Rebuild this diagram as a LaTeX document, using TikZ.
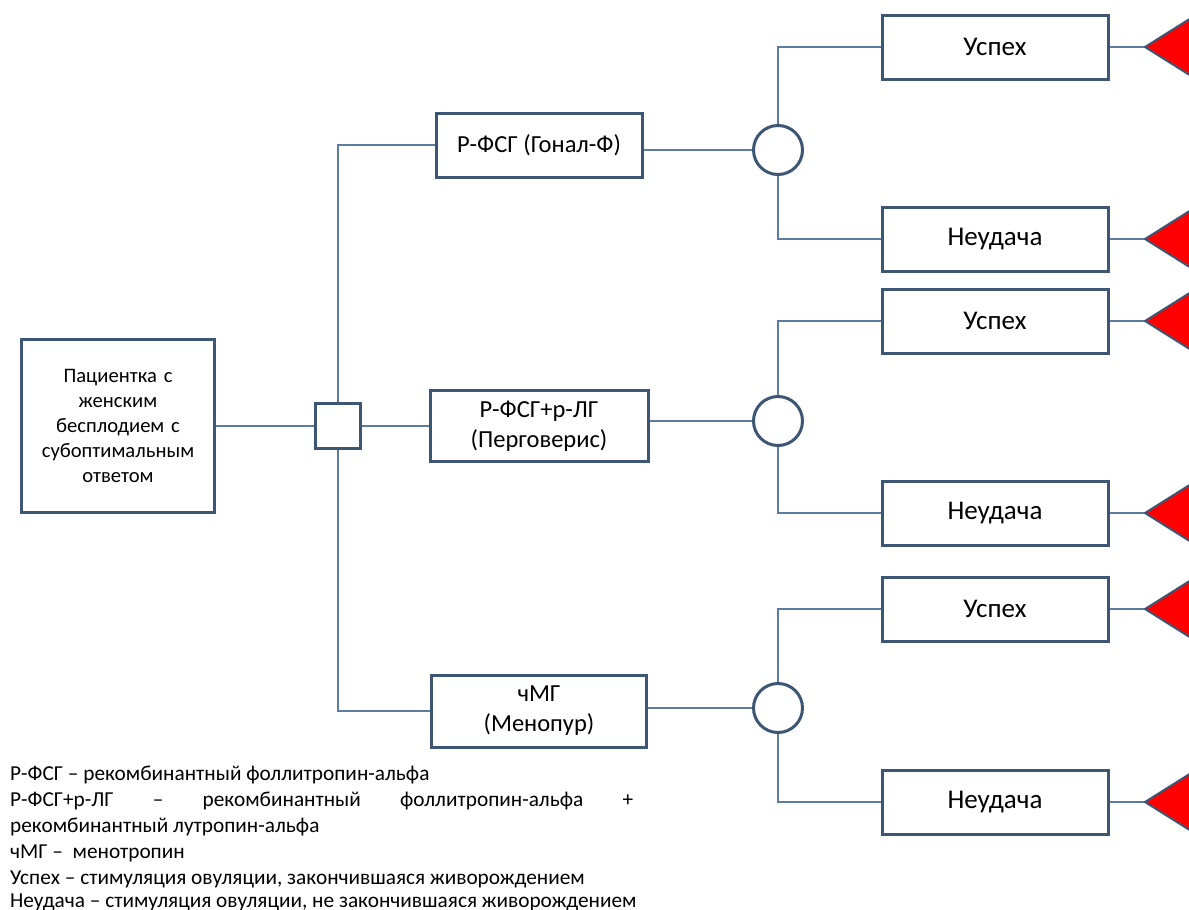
\documentclass[tikz,border=0pt]{standalone}
\usepackage{fontspec}
\setmainfont{Carlito}
\definecolor{bord}{HTML}{3D5674}
\definecolor{lin}{HTML}{5B7C9C}
\tikzset{
  box/.style={draw=bord, line width=3pt, fill=white, inner sep=0pt, align=center, font=\fontsize{24.5}{30}\selectfont},
  outbox/.style={box, minimum width=226pt, minimum height=64pt, font=\fontsize{27}{32}\selectfont},
  chance/.style={draw=bord, line width=3pt, circle, fill=white, minimum size=49pt, inner sep=0pt},
  conn/.style={draw=lin, line width=1.3pt},
  term/.style={draw=bord, line width=2pt, fill=red},
  legend/.style={anchor=base west, inner sep=0pt, font=\fontsize{21.3}{26}\selectfont}
}
\begin{document}
\begin{tikzpicture}[x=1pt,y=-1pt]
\useasboundingbox (0,0) rectangle (1189,910);
% nodes
\node[box, minimum width=193pt, minimum height=173pt, text width=185pt, font=\fontsize{20.6}{25}\selectfont] (pat) at (118,426) {Пациентка с\\женским\\бесплодием с\\субоптимальным\\ответом};
\node[box, minimum width=45pt, minimum height=45pt] (dec) at (338,426) {};
\node[box, minimum width=206pt, minimum height=64pt] (o1) at (539,145) {Р-ФСГ (Гонал-Ф)};
\node[box, minimum width=218pt, minimum height=71pt] (o2) at (539,426) {Р-ФСГ+р-ЛГ\\(Перговерис)};
\node[box, minimum width=215pt, minimum height=72pt] (o3) at (539,711) {чМГ\\(Менопур)};
\node[chance] (c1) at (778,150) {};
\node[chance] (c2) at (778,421) {};
\node[chance] (c3) at (778,708) {};
\node[outbox] (u1) at (995,47) {Успех};
\node[outbox] (n1) at (995,239) {Неудача};
\node[outbox] (u2) at (995,321) {Успех};
\node[outbox] (n2) at (995,513) {Неудача};
\node[outbox] (u3) at (995,609) {Успех};
\node[outbox] (n3) at (995,802) {Неудача};
\foreach \n/\y in {t1/47,t2/239,t3/321,t4/513,t5/609,t6/802}{
  \coordinate (\n) at (1145,\y);
}
% connectors
\draw[conn] (pat.east) -- (dec.west);
\draw[conn] (dec.east) -- (o2.west);
\draw[conn] (o1.west) -| (dec.north);
\draw[conn] (o3.west) -| (dec.south);
\draw[conn] (o1.east |- c1) -- (c1.west);
\draw[conn] (o2.east |- c2) -- (c2.west);
\draw[conn] (o3.east |- c3) -- (c3.west);
\draw[conn] (u1.west) -| (c1.north);
\draw[conn] (n1.west) -| (c1.south);
\draw[conn] (u2.west) -| (c2.north);
\draw[conn] (n2.west) -| (c2.south);
\draw[conn] (u3.west) -| (c3.north);
\draw[conn] (n3.west) -| (c3.south);
\draw[conn] (u1.east) -- (t1);
\draw[conn] (n1.east) -- (t2);
\draw[conn] (u2.east) -- (t3);
\draw[conn] (n2.east) -- (t4);
\draw[conn] (u3.east) -- (t5);
\draw[conn] (n3.east) -- (t6);
\foreach \n in {t1,t2,t3,t4,t5,t6}{
  \draw[term] (\n) -- ++(70,-44) -- ++(0,88) -- cycle;
}
% legend
\node[legend] (l1) at (10,780) {Р-ФСГ – рекомбинантный фоллитропин-альфа};
\node[legend] (l2) at (10,806) {\hbox to 623pt{Р-ФСГ+р-ЛГ\hfill–\hfill рекомбинантный\hfill фоллитропин-альфа\hfill +}};
\node[legend] (l3) at (10,832) {рекомбинантный лутропин-альфа};
\node[legend] (l4) at (10,858) {чМГ –\ \ менотропин};
\node[legend] (l5) at (10,884) {Успех – стимуляция овуляции, закончившаяся живорождением};
\node[legend] (l6) at (10,907) {Неудача – стимуляция овуляции, не закончившаяся живорождением};
\end{tikzpicture}
\end{document}
